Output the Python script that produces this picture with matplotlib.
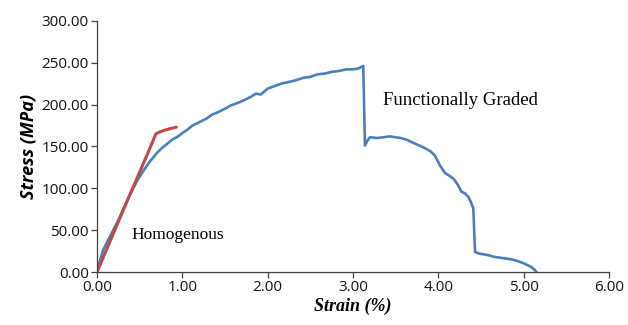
import matplotlib
matplotlib.use("Agg")
import matplotlib.pyplot as plt

# Functionally graded (blue)
fg_strain = [0.00, 0.03, 0.07, 0.12, 0.18, 0.25, 0.32, 0.40, 0.47, 0.55, 0.62, 0.70,
             0.76, 0.82, 0.88, 0.95, 1.00, 1.06, 1.12, 1.20, 1.28, 1.35, 1.42, 1.50,
             1.57, 1.65, 1.72, 1.80, 1.86, 1.92, 2.00, 2.08, 2.16, 2.25, 2.33, 2.42,
             2.50, 2.58, 2.67, 2.75, 2.83, 2.92, 3.00, 3.06, 3.12, 3.13, 3.14, 3.17,
             3.20, 3.28, 3.36, 3.43, 3.49, 3.56, 3.63, 3.71, 3.78, 3.86, 3.91, 3.96,
             4.02, 4.08, 4.13, 4.18, 4.23, 4.27, 4.31, 4.35, 4.38, 4.41, 4.42, 4.43,
             4.48, 4.54, 4.59, 4.66, 4.73, 4.80, 4.86, 4.90, 4.96, 5.01, 5.05, 5.09,
             5.13, 5.15]
fg_stress = [0, 12, 26, 36, 48, 62, 78, 95, 109, 122, 132, 142,
             148, 153, 158, 162, 166, 170, 175, 179, 183, 188, 191, 195,
             199, 202, 205, 209, 213, 212, 219, 222, 225, 227, 229, 232,
             233, 236, 237, 239, 240, 242, 242, 243, 246, 200, 151, 157,
             161, 160, 161, 162, 161, 160, 158, 154, 151, 147, 144, 139,
             127, 118, 115, 111, 104, 96, 94, 90, 84, 76, 50, 24,
             22, 21, 20, 18, 17, 16, 15, 14, 12, 10, 8, 6,
             2.5, 0]

# Homogenous (red)
hom_strain = [0.00, 0.20, 0.40, 0.60, 0.69, 0.73, 0.78, 0.85, 0.93]
hom_stress = [0, 48, 96, 143, 165, 167, 169, 171, 173]

x_ticks = [0, 1, 2, 3, 4, 5, 6]
y_ticks = [0, 50, 100, 150, 200, 250, 300]

fig = plt.figure(figsize=(6.28, 3.25), dpi=100)
ax = fig.add_axes([0.1545, 0.163, 0.8152, 0.773])

ax.plot(fg_strain, fg_stress, color="#4a7ebb", lw=1.9, solid_joinstyle="round")
ax.plot(hom_strain, hom_stress, color="#be4b48", lw=2.2, solid_capstyle="round")

ax.set_xlim(0, 6)
ax.set_ylim(0, 300)
ax.set_xticks(x_ticks)
ax.set_yticks(y_ticks)
ax.set_xticklabels([f"{v:.2f}" for v in x_ticks], fontfamily="Open Sans", fontsize=11)
ax.set_yticklabels([f"{v:.2f}" for v in y_ticks], fontfamily="Open Sans", fontsize=11)

for s in ["top", "right"]:
    ax.spines[s].set_visible(False)
for s in ["left", "bottom"]:
    ax.spines[s].set_color("#404040")
    ax.spines[s].set_linewidth(0.9)
ax.tick_params(direction="out", length=4, width=0.9, color="#404040", pad=2,
               labelcolor="#111111")

ax.set_ylabel("Stress (MPa)", fontfamily="Open Sans", fontstyle="italic",
              fontweight="bold", fontsize=13, labelpad=3)
ax.set_xlabel("Strain (%)", fontfamily="Liberation Serif", fontstyle="italic",
              fontweight="bold", fontsize=13, labelpad=2)

ax.text(0.40, 44, "Homogenous", fontfamily="Liberation Serif", fontsize=12.5,
        va="center", ha="left")
ax.text(3.35, 205, "Functionally Graded", fontfamily="Liberation Serif", fontsize=13.5,
        va="center", ha="left")

fig.savefig("out.png", dpi=100)
